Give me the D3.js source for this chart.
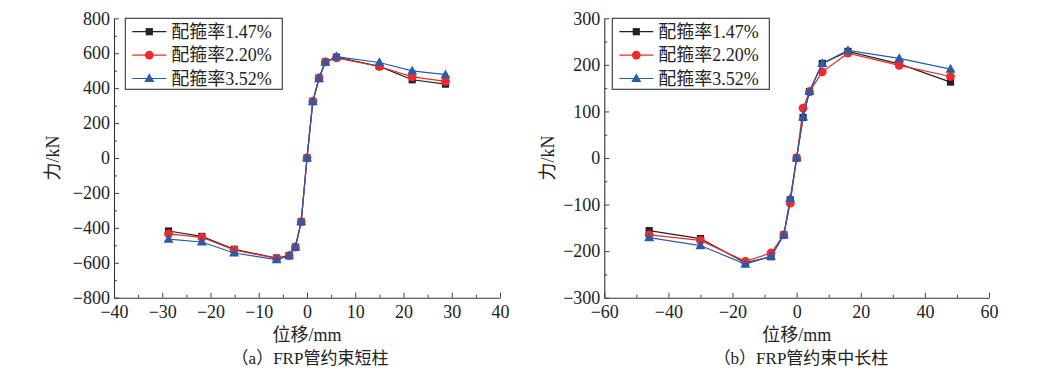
<!DOCTYPE html>
<html><head><meta charset="utf-8">
<script src="https://cdn.jsdelivr.net/npm/d3@7"></script>
<style>
body{margin:0;background:#fff;}
text{font-family:"Liberation Serif","Noto Sans CJK SC",serif;fill:#222;}
</style></head>
<body><svg id="c" width="1038" height="379"></svg>
<script>
// ---- data ----
const seriesNames = ["配箍率1.47%", "配箍率2.20%", "配箍率3.52%"];
const colors = ["#222222", "#ee2a2a", "#2a5bab"];
const markers = ["square", "circle", "triangle"];

const xA = [-28.7, -21.8, -15.1, -6.3, -3.7, -2.4, -1.2, 0, 1.2, 2.5, 3.8, 6.1, 15.0, 21.8, 28.7];
const a147 = [-418, -449, -523, -573, -559, -510, -365, 0, 324, 458, 550, 578, 525, 448, 423];
const a220 = [-435, -454, -527, -575, -559, -510, -365, 0, 324, 458, 550, 573, 524, 465, 439];
const a352 = [-465, -481, -544, -582, -559, -510, -365, 0, 323, 455, 549, 581, 547, 499, 477];

const xB = [-46, -30, -16, -8, -4, -2, 0, 2, 4, 8, 16, 32, 48];
const b147 = [-156, -173, -225, -212, -165, -90, 0, 87, 143, 203, 229, 202, 163];
const b220 = [-165, -177, -222, -204, -165, -97, 0, 107, 142, 185, 225, 199, 175];
const b352 = [-171, -188, -228, -211, -165, -87, 0, 88, 143, 203, 231, 214, 191];

const ticksAx = [-40, -30, -20, -10, 0, 10, 20, 30, 40];
const ticksAy = [-800, -600, -400, -200, 0, 200, 400, 600, 800];
const ticksBx = [-60, -40, -20, 0, 20, 40, 60];
const ticksBy = [-300, -200, -100, 0, 100, 200, 300];

const svg = d3.select("#c");
svg.append("rect").attr("width",1038).attr("height",379).attr("fill","#fff");

function drawPanel(cfg){
  const g = svg.append("g");
  const x = d3.scaleLinear().domain(cfg.xd).range(cfg.xr);
  const y = d3.scaleLinear().domain(cfg.yd).range([297.7, 18.3]);
  const fmt = d3.format("");
  // minor ticks
  g.append("g").attr("transform",`translate(0,${y.range()[0]})`)
    .call(d3.axisBottom(x).tickValues(cfg.xminor).tickSize(-3).tickFormat(""))
    .call(s=>s.select(".domain").remove());
  g.append("g").attr("transform",`translate(${x.range()[0]},0)`)
    .call(d3.axisLeft(y).tickValues(cfg.yminor).tickSize(-3).tickFormat(""))
    .call(s=>s.select(".domain").remove());
  // major
  const ax = g.append("g").attr("transform",`translate(0,${y.range()[0]})`)
    .call(d3.axisBottom(x).tickValues(cfg.xt).tickSize(-5).tickSizeOuter(0).tickPadding(10).tickFormat(fmt));
  const ay = g.append("g").attr("transform",`translate(${x.range()[0]},0)`)
    .call(d3.axisLeft(y).tickValues(cfg.yt).tickSize(-5).tickSizeOuter(0).tickPadding(4).tickFormat(fmt));
  [ax, ay].forEach(a=>{
    a.selectAll("text").style("font-size","18px").style("font-family","Liberation Serif").attr("fill","#222");
    a.select(".domain").attr("stroke","#333").attr("stroke-width",1.1);
  });
  ax.selectAll("text").attr("dy","0.55em");
  g.selectAll(".tick line").attr("stroke","#444");

  // series
  cfg.series.forEach((vals, i)=>{
    const pts = cfg.xs.map((v,j)=>[v, vals[j]]);
    g.append("path").datum(pts)
      .attr("d", d3.line().x(d=>x(d[0])).y(d=>y(d[1])))
      .attr("fill","none").attr("stroke",colors[i]).attr("stroke-width",1.2);
    pts.forEach(p=>drawMarker(g, x(p[0]), y(p[1]), i));
  });

  // legend
  const lx = cfg.legX, ly = 18.3;
  g.append("rect").attr("x",lx).attr("y",ly).attr("width",157).attr("height",71)
    .attr("fill","#fff").attr("stroke","#333").attr("stroke-width",1.1);
  seriesNames.forEach((n,i)=>{
    const yy = ly + 13.4 + i*23.4;
    g.append("line").attr("x1",lx+7).attr("x2",lx+41).attr("y1",yy).attr("y2",yy)
      .attr("stroke",colors[i]).attr("stroke-width",1.2);
    drawMarker(g, lx+24, yy, i);
    g.append("text").attr("x",lx+46).attr("y",yy).attr("dy","0.35em")
      .style("font-size","18px").text(n);
  });

  // labels
  g.append("text").attr("transform",`translate(${cfg.ylabX},158) rotate(-90)`)
    .attr("text-anchor","middle").attr("dy","0.35em").style("font-size","18px").text("力/kN");
  g.append("text").attr("x",x(0)).attr("y",335).attr("text-anchor","middle").attr("dy","0.35em")
    .style("font-size","18px").text("位移/mm");
  g.append("text").attr("x",cfg.capX).attr("y",358).attr("text-anchor","middle").attr("dy","0.35em")
    .style("font-size","17px").text(cfg.caption);
}

function drawMarker(g, cx, cy, i){
  const c = colors[i];
  if (markers[i]==="square"){
    g.append("rect").attr("x",cx-3.6).attr("y",cy-3.6).attr("width",7.2).attr("height",7.2).attr("fill",c);
  } else if (markers[i]==="circle"){
    g.append("circle").attr("cx",cx).attr("cy",cy).attr("r",4.4).attr("fill",c);
  } else {
    g.append("path").attr("d",`M${cx},${cy-5.2}L${cx+5},${cy+3.6}L${cx-5},${cy+3.6}Z`).attr("fill",c);
  }
}

drawPanel({
  xd:[-40,40], xr:[114,500], yd:[-800,800],
  xt:ticksAx, yt:ticksAy,
  xminor:d3.range(-35,40,10), yminor:d3.range(-700,800,200),
  xs:xA, series:[a147,a220,a352],
  legX:125.3, ylabX:53, capX:310, caption:"（a）FRP管约束短柱"
});
drawPanel({
  xd:[-60,60], xr:[604.3,989], yd:[-300,300],
  xt:ticksBx, yt:ticksBy,
  xminor:d3.range(-50,60,20), yminor:d3.range(-250,300,100),
  xs:xB, series:[b147,b220,b352],
  legX:612.3, ylabX:548, capX:801, caption:"（b）FRP管约束中长柱"
});
</script></body></html>
